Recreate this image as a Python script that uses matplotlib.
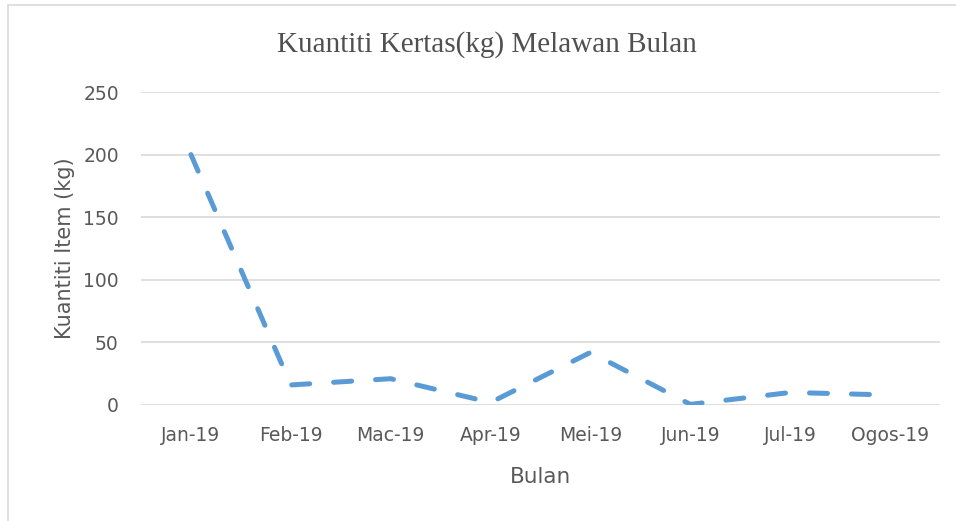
import matplotlib.pyplot as plt
from matplotlib.patches import Rectangle

# data
months = ["Jan-19", "Feb-19", "Mac-19", "Apr-19", "Mei-19", "Jun-19", "Jul-19", "Ogos-19"]
kertas_kg = [200, 16, 21, 2, 42, 0.5, 10, 8]
y_ticks = [0, 50, 100, 150, 200, 250]

label_color = "#595959"
line_color = "#5B9BD5"
grid_color = "#D9D9D9"

fig = plt.figure(figsize=(9.56, 5.21), dpi=100)
ax = fig.add_axes([141 / 956, 1 - 405 / 521, 799 / 956, 313 / 521])

x = list(range(len(months)))
# dash lengths are in units of line width
ax.plot(x, kertas_kg, color=line_color, linewidth=3.6,
        linestyle=(0, (3.6, 4.8)), dash_capstyle="round",
        solid_joinstyle="round", dash_joinstyle="round")

ax.set_xlim(-0.5, len(months) - 0.5)
ax.set_ylim(0, 250)
ax.set_yticks(y_ticks)
ax.set_xticks(x)
ax.set_xticklabels(months)
ax.tick_params(length=0, labelsize=13.5, labelcolor=label_color, pad=15)
ax.tick_params(axis="y", pad=16)

ax.grid(axis="y", color=grid_color, linewidth=1.2)
ax.set_axisbelow(True)
for s in ax.spines.values():
    s.set_visible(False)

ax.set_xlabel("Bulan", fontsize=15.5, color=label_color, labelpad=16)
ax.set_ylabel("Kuantiti Item (kg)", fontsize=15, color=label_color, labelpad=6)

fig.text(487 / 956, 1 - 45 / 521, "Kuantiti Kertas(kg) Melawan Bulan",
         family="Liberation Serif", fontsize=21, color="#505050",
         ha="center", va="center")

# light border round the chart area
fig.patches.append(Rectangle((8 / 956, -0.01), 1.0, 1 - 5 / 521 + 0.01,
                             transform=fig.transFigure, fill=False,
                             edgecolor="#D9D9D9", linewidth=1.2))

fig.savefig("out.png", dpi=100)
